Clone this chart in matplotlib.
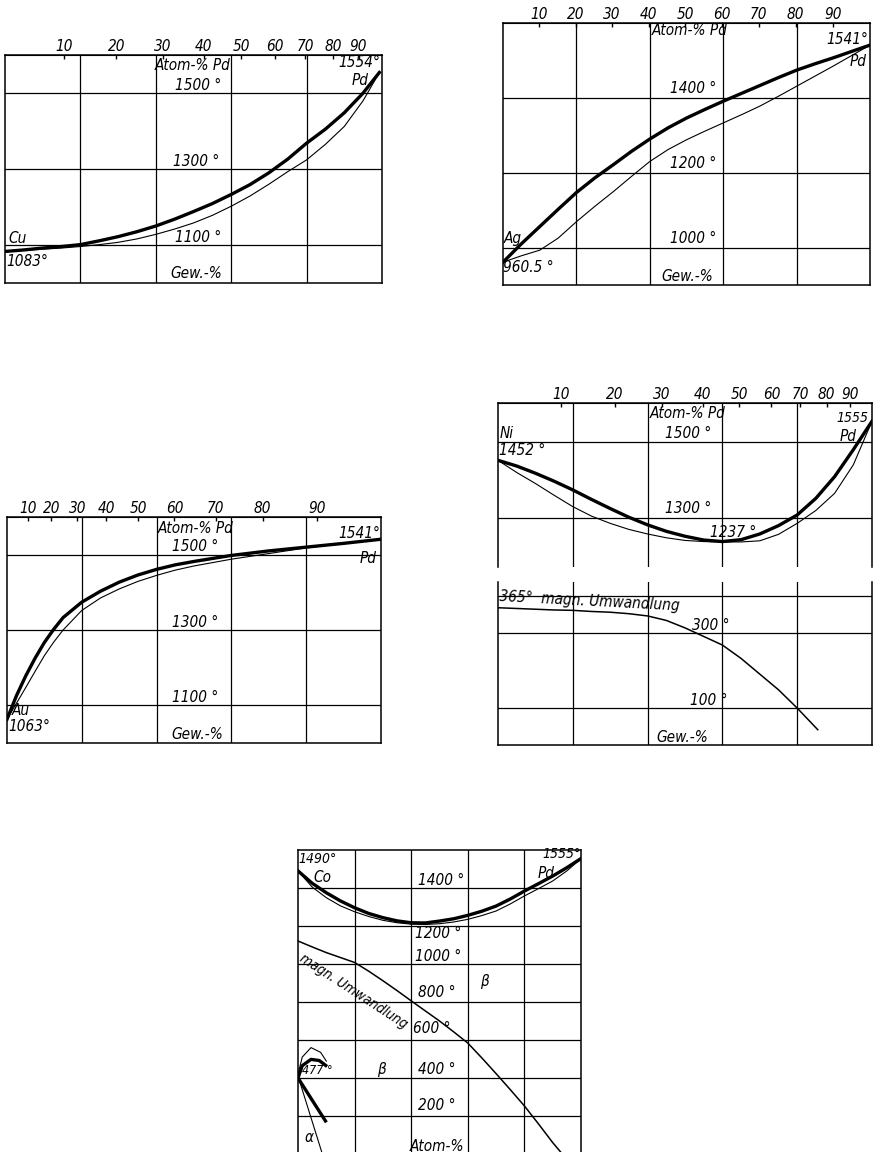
import numpy as np
import matplotlib
matplotlib.use("Agg")
import matplotlib.pyplot as plt

plt.rcParams['font.family'] = ['Liberation Sans Narrow', 'DejaVu Sans Condensed', 'DejaVu Sans']
plt.rcParams['font.stretch'] = 'condensed'
plt.rcParams['font.style'] = 'italic'

# atomic weights, used for the Atom-% Pd scale on top
M_PD = 106.4
M_CU, M_AG, M_AU, M_NI = 63.55, 107.87, 196.97, 58.69

# Cu-Pd  (Gew.-% Pd, deg C)
cu_w = [0, 5, 10, 15, 20, 25, 30, 35, 40, 45, 50, 55, 60, 65, 70, 75, 80, 85, 90, 95, 99.3]
cu_liq = [1083, 1087, 1092, 1096, 1101, 1111, 1122, 1135, 1150, 1168, 1188, 1209, 1233,
          1259, 1290, 1326, 1368, 1405, 1448, 1500, 1554]
cu_sol = [1083, 1086, 1089, 1092, 1096, 1101, 1107, 1116, 1128, 1142, 1158, 1178, 1202,
          1229, 1260, 1293, 1324, 1365, 1412, 1480, 1554]

# Ag-Pd
ag_w = [0, 5, 10, 15, 20, 25, 30, 35, 40, 45, 50, 55, 60, 65, 70, 75, 80, 85, 90, 95, 100]
ag_liq = [961, 1010, 1056, 1102, 1147, 1186, 1221, 1257, 1290, 1320, 1346, 1369, 1391,
          1412, 1433, 1454, 1474, 1491, 1507, 1524, 1541]
ag_sol = [961, 978, 993, 1025, 1069, 1110, 1149, 1190, 1230, 1262, 1288, 1311, 1333,
          1355, 1378, 1404, 1431, 1458, 1485, 1513, 1541]

# Au-Pd
au_w = [0, 2.5, 5, 7.5, 10, 12.5, 15, 20, 25, 30, 35, 40, 45, 50, 60, 70, 80, 90, 100]
au_liq = [1063, 1125, 1178, 1225, 1267, 1302, 1333, 1374, 1403, 1427, 1446, 1461, 1473,
          1482, 1498, 1510, 1520, 1530, 1541]
au_sol = [1063, 1105, 1147, 1190, 1232, 1268, 1300, 1352, 1385, 1409, 1429, 1445, 1459,
          1470, 1488, 1503, 1518, 1530, 1541]

# Ni-Pd
ni_w = [0, 5, 10, 15, 20, 25, 30, 35, 40, 45, 50, 55, 60, 65, 70, 75, 80, 85, 90, 95, 100]
ni_liq = [1452, 1437, 1418, 1397, 1374, 1349, 1325, 1302, 1282, 1265, 1252, 1242, 1238,
          1243, 1258, 1280, 1308, 1352, 1409, 1480, 1555]
ni_sol = [1452, 1420, 1391, 1360, 1330, 1305, 1286, 1270, 1258, 1248, 1241, 1238, 1237,
          1237, 1240, 1257, 1286, 1320, 1365, 1440, 1555]
ni_mag_w = [0, 5, 10, 15, 20, 25, 30, 35, 40, 45, 50, 55, 60, 65, 70, 75, 80, 85.5]
ni_mag = [368, 366, 364, 362, 361, 358, 356, 352, 346, 334, 314, 291, 268, 232, 190,
          148, 99, 41]

# Co-Pd  (Atom-% Pd)
co_a = [0, 5, 10, 15, 20, 25, 30, 35, 40, 45, 50, 55, 60, 65, 70, 75, 80, 85, 90, 95, 100]
co_liq = [1490, 1425, 1375, 1332, 1296, 1266, 1244, 1227, 1217, 1216, 1226, 1238, 1256,
          1278, 1305, 1342, 1384, 1423, 1463, 1507, 1555]
co_sol = [1490, 1405, 1349, 1306, 1275, 1250, 1230, 1217, 1210, 1208, 1212, 1221, 1235,
          1255, 1279, 1316, 1358, 1397, 1437, 1490, 1555]
co_mag_a = [0, 5, 10, 15, 20, 25, 30, 35, 40, 45, 50, 55, 60, 65, 70, 75, 80, 85, 90, 93]
co_mag = [1121, 1090, 1060, 1034, 1008, 962, 912, 860, 806, 753, 700, 643, 584, 505,
          423, 339, 253, 158, 60, 7]
co_arc1_a = [0, 1.5, 4.6, 7.5, 9.8]
co_arc1 = [400, 465, 498, 492, 466]
co_arc2_a = [0, 1.5, 4.6, 8, 10]
co_arc2 = [420, 510, 560, 535, 489]
co_down1_a = [0, 9.7]
co_down1 = [400, 174]
co_down2_a = [0, 8.5]
co_down2 = [410, 5]

W, H = 874, 1152
fig = plt.figure(figsize=(W / 100, H / 100), dpi=100)

THICK = 2.4
THIN = 0.8
GRID = 0.9
FS = 11


def box(x0, y0, x1, y1):
    return [x0 / W, 1 - y1 / H, (x1 - x0) / W, (y1 - y0) / H]


def frame(ax, ylim, hlines, vlines=(20, 40, 60, 80)):
    ax.set_xlim(0, 100)
    ax.set_ylim(*ylim)
    ax.set_xticks([])
    ax.set_yticks([])
    for v in vlines:
        ax.axvline(v, color='k', lw=GRID)
    for h in hlines:
        ax.axhline(h, color='k', lw=GRID)
    for s in ax.spines.values():
        s.set_linewidth(1.1)


def atom_axis(ax, m_x):
    def w2a(w):
        w = np.clip(np.asarray(w, float), 1e-6, 100 - 1e-6)
        return 100 * (w / M_PD) / (w / M_PD + (100 - w) / m_x)

    def a2w(a):
        a = np.clip(np.asarray(a, float), 1e-6, 100 - 1e-6)
        return 100 * a * M_PD / (a * M_PD + (100 - a) * m_x)

    sec = ax.secondary_xaxis('top', functions=(w2a, a2w))
    sec.set_xticks(range(10, 100, 10))
    sec.tick_params(direction='in', length=3, width=1, pad=1, labelsize=11)
    return sec


def txt(ax, x, y, s, **kw):
    kw.setdefault('fontsize', FS)
    kw.setdefault('va', 'center')
    ax.text(x, y, s, **kw)


# ---- Cu-Pd
ax = fig.add_axes(box(5, 55, 382, 283))
frame(ax, (1000, 1600), (1100, 1300, 1500))
atom_axis(ax, M_CU)
ax.plot(cu_w, cu_liq, color='k', lw=THICK)
ax.plot(cu_w, cu_sol, color='k', lw=THIN)
txt(ax, 39.8, 1573, "Atom-% Pd")
txt(ax, 45, 1521, "1500 °")
txt(ax, 44.6, 1321, "1300 °")
txt(ax, 45, 1121, "1100 °")
txt(ax, 43.8, 1024, "Gew.-%")
txt(ax, 0.8, 1118, "Cu")
txt(ax, 0.3, 1056, "1083°")
txt(ax, 99.5, 1581, "1554°", ha='right')
txt(ax, 96.5, 1534, "Pd", ha='right')

# ---- Ag-Pd
ax = fig.add_axes(box(503, 23, 870, 285))
frame(ax, (900, 1600), (1000, 1200, 1400))
atom_axis(ax, M_AG)
ax.plot(ag_w, ag_liq, color='k', lw=THICK)
ax.plot(ag_w, ag_sol, color='k', lw=THIN)
txt(ax, 40.4, 1579, "Atom-% Pd")
txt(ax, 45.5, 1425, "1400 °")
txt(ax, 45.5, 1225, "1200 °")
txt(ax, 45.5, 1025, "1000 °")
txt(ax, 43.2, 923, "Gew.-%")
txt(ax, 0.3, 1025, "Ag")
txt(ax, 0.0, 948, "960.5 °")
txt(ax, 99.5, 1557, "1541°", ha='right')
txt(ax, 99, 1498, "Pd", ha='right')

# ---- Au-Pd
ax = fig.add_axes(box(7, 517, 381, 743))
frame(ax, (1000, 1600), (1100, 1300, 1500))
atom_axis(ax, M_AU)
ax.plot(au_w, au_liq, color='k', lw=THICK)
ax.plot(au_w, au_sol, color='k', lw=THIN)
txt(ax, 40.4, 1569, "Atom-% Pd")
txt(ax, 44, 1521, "1500 °")
txt(ax, 44, 1321, "1300 °")
txt(ax, 44, 1121, "1100 °")
txt(ax, 44, 1023, "Gew.-%")
txt(ax, 1.3, 1085, "Au")
txt(ax, 0.4, 1045, "1063°")
txt(ax, 99.7, 1556, "1541°", ha='right')
txt(ax, 98.8, 1489, "Pd", ha='right')

# ---- Ni-Pd, upper part
ax = fig.add_axes(box(498, 403, 872, 567))
frame(ax, (1171, 1603), (1300, 1500))
ax.spines['bottom'].set_visible(False)
atom_axis(ax, M_NI)
ax.plot(ni_w, ni_liq, color='k', lw=THICK)
ax.plot(ni_w, ni_sol, color='k', lw=THIN)
txt(ax, 40.6, 1575, "Atom-% Pd")
txt(ax, 44.7, 1523, "1500 °")
txt(ax, 44.7, 1326, "1300 °")
txt(ax, 56.7, 1262, "1237 °")
txt(ax, 0.5, 1523, "Ni")
txt(ax, 0.3, 1479, "1452 °")
txt(ax, 99, 1563, "1555", ha='right', fontsize=10)
txt(ax, 96, 1514, "Pd", ha='right')

# ---- Ni-Pd, lower part (magnetic transformation)
ax = fig.add_axes(box(498, 582, 872, 745))
frame(ax, (0, 437), (100, 300, 400))
ax.spines['top'].set_visible(False)
ax.plot(ni_mag_w, ni_mag, color='k', lw=THIN + 0.3)
txt(ax, 0.3, 386, "365°  magn. Umwandlung", rotation=-3)
txt(ax, 52, 321, "300 °")
txt(ax, 51.3, 120, "100 °")
txt(ax, 42.4, 21, "Gew.-%")

# ---- Co-Pd
ax = fig.add_axes(box(298, 850, 581, 1154))
frame(ax, (0, 1600), range(200, 1600, 200))
ax.spines['bottom'].set_visible(False)
ax.plot(co_a, co_liq, color='k', lw=THICK)
ax.plot(co_a, co_sol, color='k', lw=THIN)
ax.plot(co_mag_a, co_mag, color='k', lw=THIN + 0.3)
ax.plot(co_arc1_a, co_arc1, color='k', lw=THICK)
ax.plot(co_arc2_a, co_arc2, color='k', lw=THIN)
ax.plot(co_down1_a, co_down1, color='k', lw=THICK)
ax.plot(co_down2_a, co_down2, color='k', lw=THIN)
txt(ax, 0.3, 1553, "1490°", fontsize=10)
txt(ax, 5.3, 1454, "Co")
txt(ax, 42.4, 1437, "1400 °")
txt(ax, 84.5, 1474, "Pd")
txt(ax, 100, 1579, "1555°", ha='right', fontsize=10)
txt(ax, 41.3, 1158, "1200 °")
txt(ax, 41.3, 1042, "1000 °")
txt(ax, 64.3, 910, "β")
txt(ax, 42.4, 849, "800 °")
txt(ax, 40.7, 658, "600 °")
txt(ax, 42.4, 447, "400 °")
txt(ax, 42.4, 253, "200 °")
txt(ax, 39.6, 42, "Atom-%")
txt(ax, 27.8, 447, "β")
txt(ax, 2.5, 86, "α")
txt(ax, 1.3, 437, "477 °", fontsize=9)
txt(ax, 19.5, 855, "magn. Umwandlung", ha='center', rotation=-33, fontsize=10)

fig.savefig("out.png", dpi=100)
